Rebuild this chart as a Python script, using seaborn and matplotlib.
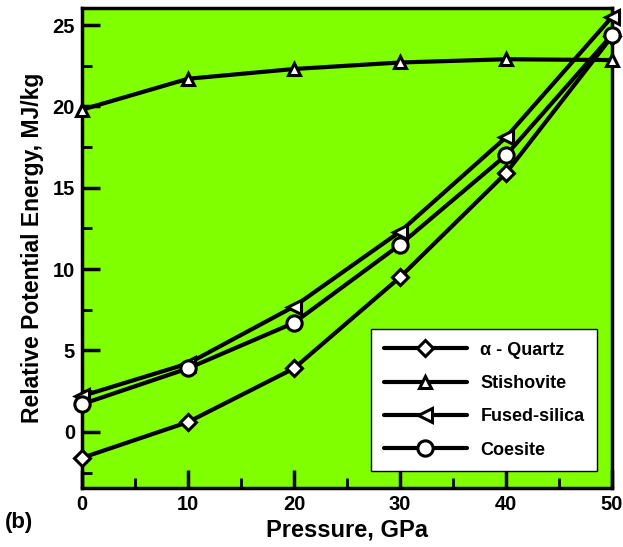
import matplotlib
matplotlib.use("Agg")
import matplotlib.pyplot as plt
import seaborn as sns
import pandas as pd
from matplotlib.ticker import MultipleLocator

pressure = [0, 10, 20, 30, 40, 50]
quartz = [-1.6, 0.6, 3.9, 9.5, 15.9, 24.3]
stishovite = [19.8, 21.7, 22.3, 22.7, 22.9, 22.85]
fused = [2.2, 4.2, 7.7, 12.3, 18.1, 25.5]
coesite = [1.7, 3.9, 6.7, 11.5, 17.0, 24.4]

labels = ["α - Quartz", "Stishovite", "Fused-silica", "Coesite"]
series = [quartz, stishovite, fused, coesite]
markers = ["D", "^", "<", "o"]
msizes = [8, 9, 10, 11]

sns.set_style("ticks")
plt.rcParams['font.family'] = ['Liberation Sans', 'DejaVu Sans']
plt.rcParams['font.weight'] = 'bold'
plt.rcParams['text.color'] = 'black'
plt.rcParams['axes.labelcolor'] = 'black'
plt.rcParams['xtick.color'] = 'black'
plt.rcParams['ytick.color'] = 'black'

fig = plt.figure(figsize=(6.23, 5.47), dpi=100)
ax = fig.add_axes([0.1316, 0.1079, 0.8507, 0.8775])
ax.set_facecolor('#7FFF00')

for lab, vals, m, ms in zip(labels, series, markers, msizes):
    df = pd.DataFrame({"P": pressure, "E": vals})
    sns.lineplot(data=df, x="P", y="E", ax=ax, color='black', lw=3,
                 marker=m, markersize=ms, markerfacecolor='white',
                 markeredgecolor='black', markeredgewidth=2.2, label=lab,
                 clip_on=False, zorder=3)

ax.set_xlim(0, 50)
ax.set_ylim(-3.45, 26.05)
ax.xaxis.set_major_locator(MultipleLocator(10))
ax.xaxis.set_minor_locator(MultipleLocator(5))
ax.yaxis.set_major_locator(MultipleLocator(5))
ax.yaxis.set_minor_locator(MultipleLocator(2.5))
ax.tick_params(which='major', direction='in', length=13, width=2.5, labelsize=14.5, pad=5,
               top=False, right=False, colors='black')
ax.tick_params(which='minor', direction='in', length=7, width=2, top=False, right=False)
for lbl in ax.get_xticklabels() + ax.get_yticklabels():
    lbl.set_fontweight('bold')
for s in ax.spines.values():
    s.set_linewidth(2.5)
    s.set_color('black')

ax.set_xlabel("Pressure, GPa", fontsize=17, fontweight='bold', labelpad=3)
ax.set_ylabel("Relative Potential Energy, MJ/kg", fontsize=16.5, fontweight='bold', labelpad=6)

leg = ax.legend(loc='lower right', bbox_to_anchor=(0.972, 0.035), frameon=True,
                fancybox=False, edgecolor='black', framealpha=1, fontsize=13,
                handlelength=4.6, labelspacing=0.9, borderpad=0.7, handletextpad=0.75,
                borderaxespad=0)
leg.get_frame().set_linewidth(1)
for t in leg.get_texts():
    t.set_fontweight('bold')

fig.text(0.008, 0.035, "(b)", fontsize=16, fontweight='bold')

fig.savefig("out.png", dpi=100)
